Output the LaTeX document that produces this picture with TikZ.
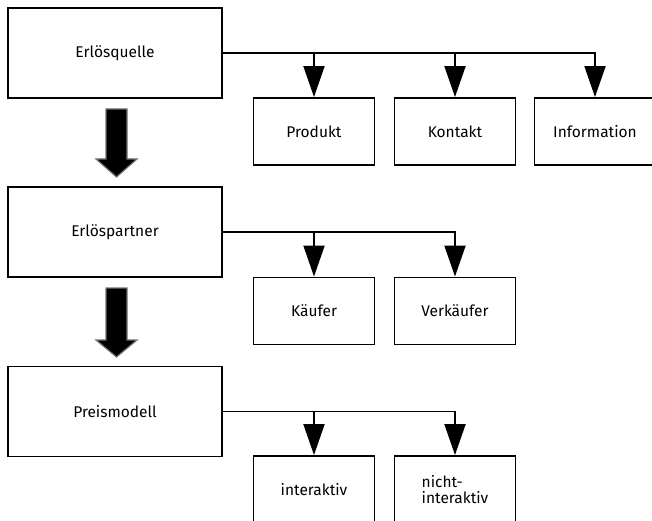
\documentclass[tikz,border=0pt]{standalone}
\usepackage{fontspec}
\setmainfont{Fira Sans}
\usetikzlibrary{arrows.meta}
\begin{document}
\begin{tikzpicture}[x=1pt,y=-1pt,
  box/.style={draw=black, line width=1.9pt, fill=white, inner sep=0pt, font=\fontsize{15.5}{17}\selectfont, align=center},
  big/.style={box, minimum width=214pt, minimum height=90pt},
  small/.style={box, minimum width=121pt, minimum height=67pt},
  conn/.style={line width=1.9pt, -{Triangle[width=21pt,length=31pt]}},
  bigarrow/.style={fill=black, draw=black!55, line width=1.2pt, line join=miter}]
\useasboundingbox (0,0) rectangle (652,521);
\clip (0,0) rectangle (652,521);
% level 1
\node[big] (q) at (115,53) {Erlösquelle};
\node[small] (prod) at (314,131.5) {Produkt};
\node[small] (kont) at (455,131.5) {Kontakt};
\node[small] (info) at (595,131.5) {Information};
\draw[conn] (q.east) -| (info.north);
\draw[conn] (q.east) -| (prod.north);
\draw[conn] (q.east) -| (kont.north);
% level 2
\node[big] (p) at (115,232) {Erlöspartner};
\node[small] (kauf) at (314,311) {Käufer};
\node[small] (verk) at (455,311) {Verkäufer};
\draw[conn] (p.east) -| (verk.north);
\draw[conn] (p.east) -| (kauf.north);
% level 3
\node[big] (m) at (115,411.5) {Preismodell};
\node[small] (inter) at (314,489.5) {interaktiv};
\node[small, align=left, font=\fontsize{15.5}{16}\selectfont] (nicht) at (455,489.5) {nicht-\\interaktiv};
\draw[conn] (m.east) -| (nicht.north);
\draw[conn] (m.east) -| (inter.north);
% big arrows
\draw[bigarrow] (106,109) -- (127,109) -- (127,159) -- (137,159) -- (116.5,177) -- (96,159) -- (106,159) -- cycle;
\draw[bigarrow] (106,288) -- (127,288) -- (127,340) -- (137,340) -- (116.5,357) -- (96,340) -- (106,340) -- cycle;
\end{tikzpicture}
\end{document}
